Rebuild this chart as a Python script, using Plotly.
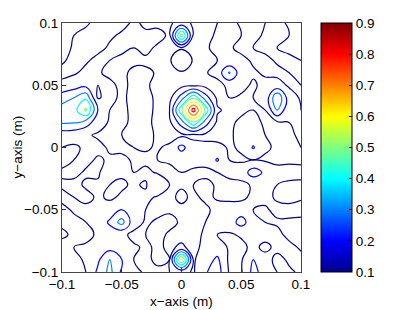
import numpy as np
import plotly.graph_objects as go

# grid coordinates (m)
x_vals = [round(-0.1 + 0.01 * i, 2) for i in range(21)]
y_vals = [round(0.1 - 0.01 * j, 2) for j in range(21)]

# field values (x100), rows from y=0.1 (top) to y=-0.1 (bottom)
z_pct = [
    [12, 12, 11, 8, 7, 8, 11, 9, 7, 9, 13, 9, 7, 10, 12, 9, 7, 10, 12, 9, 8],
    [11, 10, 8, 7, 9, 11, 12, 11, 14, 8, 55, 8, 8, 11, 12, 10, 8, 11, 12, 10, 8],
    [13, 9, 7, 8, 11, 12, 10, 13, 8, 8, 9, 8, 9, 12, 11, 8, 10, 12, 10, 8, 9],
    [11, 8, 9, 12, 10, 8, 9, 8, 10, 9, 18, 9, 8, 10, 11, 12, 9, 8, 11, 12, 10],
    [8, 9, 12, 11, 8, 9, 11, 12, 9, 8, 9, 8, 9, 14, 31, 14, 11, 9, 8, 10, 12],
    [12, 15, 17, 10, 12, 8, 12, 11, 8, 6, 7, 8, 7, 6, 13, 12, 9, 12, 13, 9, 10],
    [26, 30, 38, 9, 13, 8, 13, 13, 8, 7, 25, 48, 25, 8, 10, 9, 10, 12, 40, 14, 9],
    [34, 36, 52, 20, 10, 8, 12, 13, 8, 10, 48, 85, 48, 11, 8, 9, 10, 10, 30, 12, 10],
    [31, 31, 25, 14, 9, 8, 12, 12, 8, 8, 25, 48, 25, 8, 9, 11, 12, 9, 8, 10, 11],
    [14, 13, 11, 9, 8, 10, 11, 12, 9, 6, 8, 8, 8, 6, 9, 12, 13, 10, 8, 9, 11],
    [10, 9, 11, 12, 9, 8, 10, 11, 9, 12, 23, 13, 12, 13, 9, 11, 21, 11, 9, 8, 10],
    [8, 10, 12, 9, 11, 12, 9, 8, 10, 11, 13, 12, 13, 21, 10, 9, 10, 9, 8, 9, 8],
    [11, 12, 9, 8, 19, 11, 10, 12, 9, 8, 10, 9, 8, 10, 12, 14, 25, 18, 13, 12, 13],
    [9, 8, 11, 12, 10, 9, 11, 9, 19, 10, 9, 10, 12, 9, 8, 8, 11, 12, 10, 9, 8],
    [12, 10, 8, 11, 9, 11, 13, 12, 9, 8, 12, 8, 12, 9, 8, 8, 12, 12, 9, 8, 9],
    [8, 11, 12, 13, 13, 20, 18, 10, 8, 9, 8, 10, 8, 13, 14, 15, 10, 9, 12, 12, 13],
    [9, 8, 10, 12, 22, 34, 14, 9, 11, 12, 9, 8, 10, 11, 15, 24, 14, 10, 9, 9, 8],
    [11, 9, 8, 11, 14, 12, 8, 10, 12, 9, 8, 8, 11, 10, 9, 11, 12, 13, 12, 8, 10],
    [8, 10, 11, 12, 16, 14, 11, 9, 11, 9, 11, 8, 12, 14, 9, 8, 12, 8, 12, 12, 9],
    [9, 8, 11, 18, 30, 20, 10, 8, 12, 10, 62, 9, 15, 22, 8, 9, 20, 13, 8, 11, 12],
    [7, 9, 10, 22, 33, 18, 12, 9, 8, 10, 13, 9, 19, 25, 9, 9, 23, 16, 10, 9, 11],
]

tick_vals = [-0.1, -0.05, 0, 0.05, 0.1]
tick_text = ["\u22120.1", "\u22120.05", "0", "0.05", "0.1"]
cbar_vals = [0.1, 0.2, 0.3, 0.4, 0.5, 0.6, 0.7, 0.8, 0.9]
x_title = "x\u2212axis (m)"
y_title = "y\u2212axis (m)"

z = np.array(z_pct, dtype=float) / 100.0

jet = [
    [0.0, "rgb(0,0,143)"],
    [0.125, "rgb(0,0,255)"],
    [0.375, "rgb(0,255,255)"],
    [0.625, "rgb(255,255,0)"],
    [0.875, "rgb(255,0,0)"],
    [1.0, "rgb(128,0,0)"],
]

FONT = "Liberation Sans, Arial, Helvetica, sans-serif"

# The page body adds an 8px offset; margins compensate so the plot box sits at
# x 62..301, y 23..272 in the browser window.
PAGE_OFF = 8
M_L, M_T = 62 - PAGE_OFF, 23 - PAGE_OFF
PLOT_W, PLOT_H = 239, 249
W, H = 411, 310

fig = go.Figure()
fig.add_trace(go.Contour(
    x=x_vals, y=y_vals, z=z,
    colorscale=jet, zmin=0.1, zmax=0.9, zauto=False,
    autocontour=False,
    contours=dict(start=0.1, end=0.9, size=0.1, coloring="lines"),
    line=dict(width=1.2, smoothing=1.3),
    showscale=False,
    hoverinfo="skip",
))
fig.add_trace(go.Scatter(
    x=[None], y=[None], mode="markers", showlegend=False, hoverinfo="skip",
    marker=dict(
        color=[0.5], colorscale=jet, cmin=0.1, cmax=0.9, showscale=True,
        colorbar=dict(
            x=(321 - 62) / PLOT_W, xanchor="left", xref="paper",
            y=0.5, yanchor="middle", len=1.0, lenmode="fraction",
            thickness=31, thicknessmode="pixels",
            outlinecolor="black", outlinewidth=1,
            tickvals=cbar_vals, ticktext=[str(v) for v in cbar_vals],
            ticks="inside", ticklen=3, tickcolor="black",
            tickfont=dict(family=FONT, size=13.5, color="black"),
            xpad=0, ypad=0,
        ),
    ),
))

axis_common = dict(
    range=[-0.1, 0.1], tickvals=tick_vals, ticktext=tick_text,
    ticks="inside", ticklen=4, tickcolor="#333",
    showline=True, linecolor="#444", linewidth=1, mirror=True,
    showgrid=False, zeroline=False, automargin=False,
    tickfont=dict(family=FONT, size=13.5, color="black"),
)

fig.update_layout(
    width=W, height=H,
    margin=dict(l=M_L, r=W - M_L - PLOT_W, t=M_T, b=H - M_T - PLOT_H, autoexpand=False),
    paper_bgcolor="white", plot_bgcolor="white",
    showlegend=False,
    xaxis=dict(**axis_common),
    yaxis=dict(**axis_common),
    annotations=[
        dict(text=x_title, xref="paper", yref="paper", x=0.5, y=-(301 - 272) / PLOT_H,
             xanchor="center", yanchor="middle", showarrow=False,
             font=dict(family=FONT, size=13.5, color="black")),
        dict(text=y_title, xref="paper", yref="paper", x=-(62 - 17) / PLOT_W, y=0.5,
             xanchor="center", yanchor="middle", textangle=-90, showarrow=False,
             font=dict(family=FONT, size=13.5, color="black")),
    ],
)

fig.write_html("out.html")
